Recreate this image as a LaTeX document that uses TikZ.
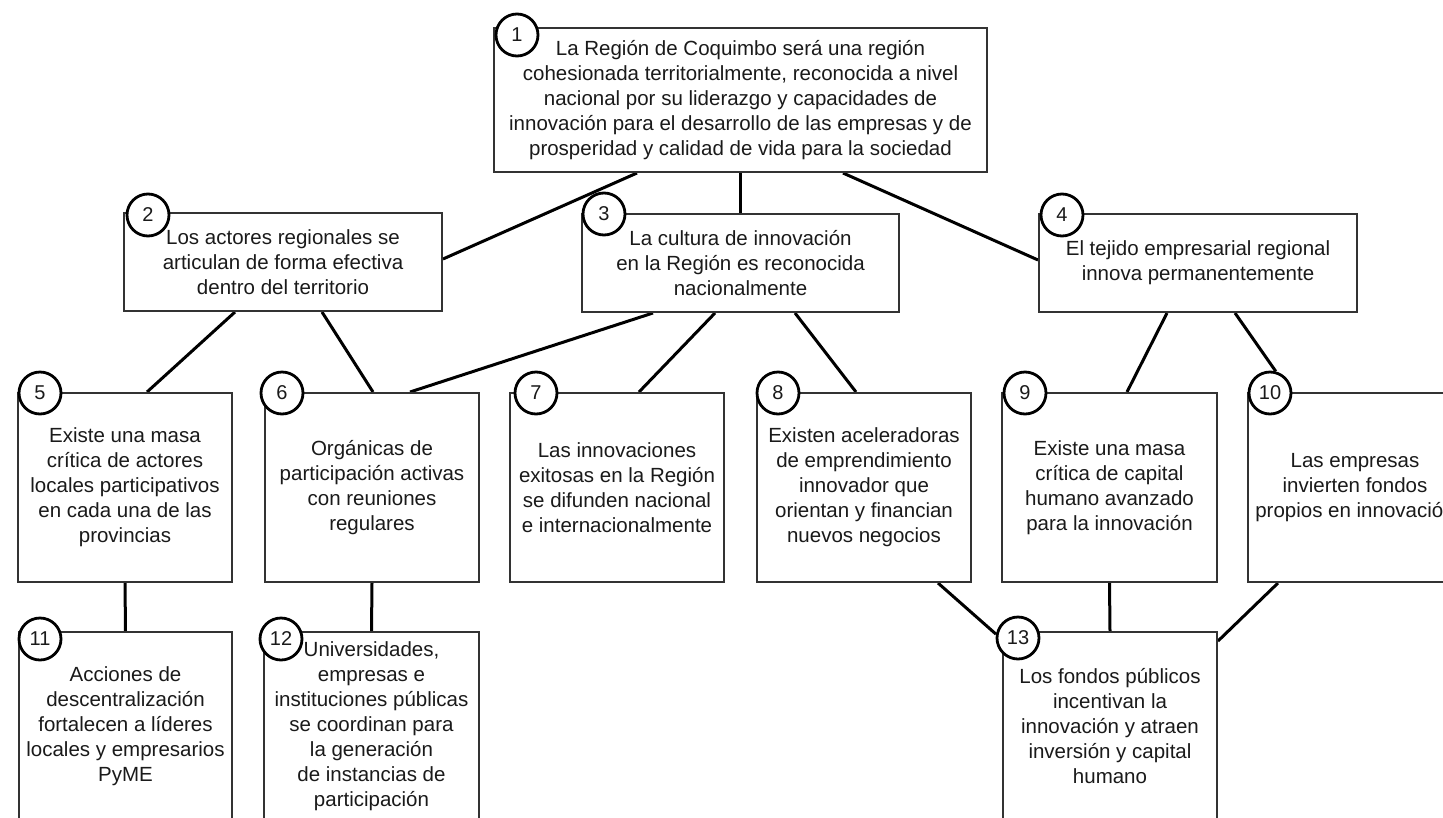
\documentclass[tikz,border=0pt]{standalone}
\usepackage{fontspec}
\setmainfont{Liberation Sans}
\usetikzlibrary{backgrounds}
\definecolor{boxline}{HTML}{333333}
\definecolor{ink}{HTML}{1A1A1A}
\tikzset{
  goal/.style={draw=boxline, line width=2pt, fill=white, align=center,
    inner sep=0pt, text=ink, font=\fontsize{20.5}{25}\selectfont},
  num/.style={circle, draw=black, line width=2.8pt, fill=white,
    minimum size=42pt, inner sep=0pt, text=ink,
    font=\fontsize{20}{24}\selectfont},
  link/.style={line width=3pt, draw=black},
}
\begin{document}
\begin{tikzpicture}[x=1pt,y=-1pt]
\useasboundingbox (0,0) rectangle (1443,817);
\clip (0,0) rectangle (1443,817);

% level 1
\node[goal, minimum width=493pt, minimum height=144pt] (b1) at (740.5,100)
  {La Región de Coquimbo será una región\\cohesionada territorialmente, reconocida a nivel\\nacional por su liderazgo y capacidades de\\innovación para el desarrollo de las empresas y de\\prosperidad y calidad de vida para la sociedad};

% level 2
\node[goal, minimum width=318pt, minimum height=98pt] (b2) at (283,262)
  {Los actores regionales se\\articulan de forma efectiva\\dentro del territorio};
\node[goal, minimum width=317pt, minimum height=98pt] (b3) at (740.5,263)
  {La cultura de innovación\\en la Región es reconocida\\nacionalmente};
\node[goal, minimum width=318pt, minimum height=98pt] (b4) at (1198,263)
  {El tejido empresarial regional\\innova permanentemente};

% level 3
\node[goal, minimum width=214pt, minimum height=189pt] (b5) at (125,487.5)
  {Existe una masa\\crítica de actores\\locales participativos\\en cada una de las\\provincias};
\node[goal, minimum width=214pt, minimum height=189pt] (b6) at (372,487.5)
  {Orgánicas de\\participación activas\\con reuniones\\regulares};
\node[goal, minimum width=214pt, minimum height=189pt] (b7) at (617,487.5)
  {Las innovaciones\\exitosas en la Región\\se difunden nacional\\e internacionalmente};
\node[goal, minimum width=214pt, minimum height=189pt] (b8) at (864,487.5)
  {Existen aceleradoras\\de emprendimiento\\innovador que\\orientan y financian\\nuevos negocios};
\node[goal, minimum width=215pt, minimum height=189pt] (b9) at (1109.5,487.5)
  {Existe una masa\\crítica de capital\\humano avanzado\\para la innovación};
\node[goal, minimum width=214pt, minimum height=189pt] (b10) at (1355,487.5)
  {Las empresas\\invierten fondos\\propios en innovación};

% level 4
\node[goal, minimum width=213pt, minimum height=189pt] (b11) at (125.5,726.5)
  {Acciones de\\descentralización\\fortalecen a líderes\\locales y empresarios\\PyME};
\node[goal, minimum width=215pt, minimum height=189pt] (b12) at (371.5,726.5)
  {Universidades,\\empresas e\\instituciones públicas\\se coordinan para\\la generación\\de instancias de\\participación};
\node[goal, minimum width=214pt, minimum height=189pt] (b13) at (1110,726.5)
  {Los fondos públicos\\incentivan la\\innovación y atraen\\inversión y capital\\humano};

% number badges
\node[num] (c1) at (517,35) {1};
\node[num] (c2) at (148,215) {2};
\node[num] (c3) at (604,214) {3};
\node[num] (c4) at (1062,215) {4};
\node[num] (c5) at (40,393) {5};
\node[num] (c6) at (282,393) {6};
\node[num] (c7) at (536,393) {7};
\node[num] (c8) at (778,393) {8};
\node[num] (c9) at (1025,393) {9};
\node[num] (c10) at (1270,393) {10};
\node[num] (c11) at (40,639) {11};
\node[num] (c12) at (281,639) {12};
\node[num] (c13) at (1018,638) {13};

% connectors
\begin{scope}[on background layer]
\draw[link] ([xshift=-103.5pt]b1.south) -- ([yshift=3pt]b2.east);
\draw[link] (b1.south) -- (b3.north);
\draw[link] ([xshift=102.5pt]b1.south) -- ([yshift=3pt]b4.west);
\draw[link] ([xshift=-48pt]b2.south) -- ([xshift=22pt]b5.north);
\draw[link] ([xshift=39pt]b2.south) -- ([xshift=1pt]b6.north);
\draw[link] ([xshift=-87.5pt]b3.south) -- ([xshift=38pt]b6.north);
\draw[link] ([xshift=-25.5pt]b3.south) -- ([xshift=22pt]b7.north);
\draw[link] ([xshift=54.5pt]b3.south) -- ([xshift=-8pt]b8.north);
\draw[link] ([xshift=-31pt]b4.south) -- ([xshift=17.5pt]b9.north);
\draw[link] ([xshift=37pt]b4.south) -- (c10.75);
\draw[link] (b5.south) -- (b11.north);
\draw[link] (b6.south) -- (b12.north);
\draw[link] ([xshift=74pt]b8.south) -- (c13.170);
\draw[link] (b9.south) -- (b13.north);
\draw[link] ([xshift=-77pt]b10.south) -- ([yshift=-10pt]b13.north east);
\end{scope}
\end{tikzpicture}
\end{document}
